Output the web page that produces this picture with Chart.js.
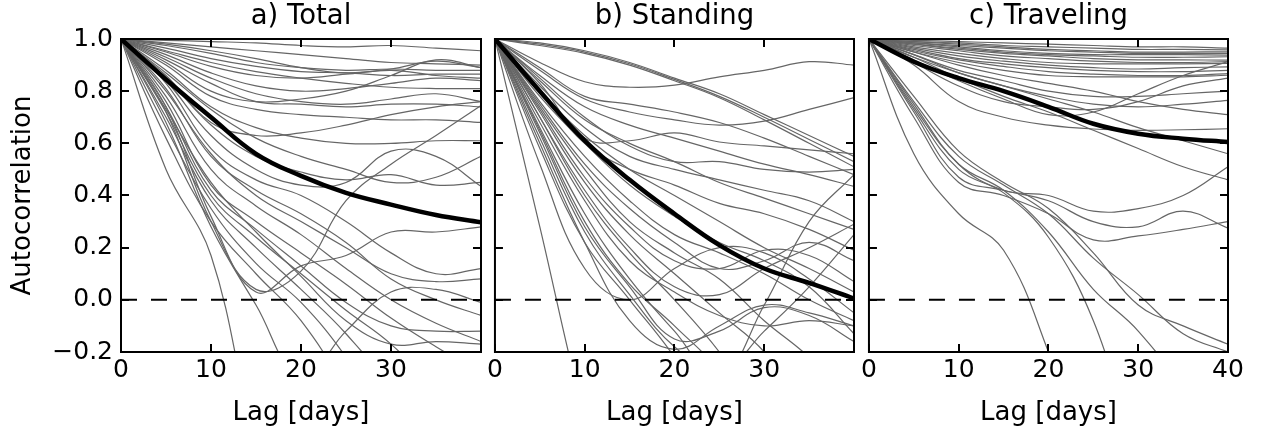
<!DOCTYPE html>
<html>
<head>
<meta charset="utf-8">
<script src="https://cdn.jsdelivr.net/npm/chart.js@4.4.0/dist/chart.umd.min.js"></script>
<style>
  body { margin: 0; background: #fff; }
  #wrap { position: relative; width: 1261px; height: 429px; overflow: hidden; }
  canvas { position: absolute; top: 0; }
</style>
</head>
<body>
<div id="wrap">
  <canvas id="total" width="490" height="429" style="left:0px"></canvas>
  <canvas id="standing" width="380" height="429" style="left:484px"></canvas>
  <canvas id="traveling" width="403" height="429" style="left:858px"></canvas>
</div>
<script>
// lag values (days) shared by every curve
const lags = [0, 5, 10, 15, 20, 25, 30, 35, 40];
const xTicks = [0, 10, 20, 30, 40];
const yTicks = [-0.2, 0, 0.2, 0.4, 0.6, 0.8, 1.0];
const zeroLags = [0, 40];
const zeroLine = [0, 0];
const panelTitles = ['a) Total', 'b) Standing', 'c) Traveling'];

// a) Total
const totalMean = [1, .845, .70, .56, .475, .41, .365, .325, .297];
const totalSeries = [
  [1, .995, .99, .985, .975, .97, .975, .965, .955],
  [1, .985, .97, .955, .94, .925, .91, .905, .90],
  [1, .98, .955, .925, .89, .87, .885, .915, .89],
  [1, .975, .945, .91, .89, .88, .885, .88, .88],
  [1, .965, .925, .895, .875, .87, .86, .865, .865],
  [1, .955, .91, .875, .85, .83, .815, .81, .81],
  [1, .95, .895, .86, .85, .865, .88, .86, .85],
  [1, .94, .87, .82, .80, .81, .83, .85, .84],
  [1, .93, .85, .79, .76, .75, .77, .79, .76],
  [1, .92, .83, .76, .75, .74, .75, .75, .74],
  [1, .91, .80, .76, .77, .80, .86, .92, .89],
  [1, .90, .78, .73, .71, .70, .69, .69, .68],
  [1, .86, .68, .63, .64, .67, .71, .74, .76],
  [1, .88, .74, .66, .62, .60, .60, .61, .61],
  [1, .85, .67, .55, .49, .46, .48, .44, .45],
  [1, .84, .63, .50, .44, .45, .57, .55, .435],
  [1, .87, .73, .62, .55, .50, .45, .47, .55],
  [1, .72, .30, .04, .11, .38, .52, .63, .745],
  [1, .74, .32, .03, .13, .17, .26, .26, .28],
  [1, .50, .17, -.55, -1, -1, -1, -1, -1],
  [1, .62, .30, .10, -.08, -.35, -.7, -1, -1],
  [1, .66, .35, .14, -.01, -.22, -.5, -1, -1],
  [1, .70, .38, .20, .04, -.13, -.35, -.7, -1],
  [1, .72, .40, .24, .10, -.04, -.17, -.35, -.6],
  [1, .76, .44, .30, .18, .06, -.07, -.18, -.28],
  [1, .78, .50, .36, .25, .12, .0, -.09, -.16],
  [1, .81, .55, .42, .33, .22, .08, .0, -.06],
  [1, .83, .58, .46, .40, .30, .18, .10, .12],
  [1, .74, .42, .27, .13, -.01, -.10, -.12, -.12],
  [1, .68, .28, -.02, -.30, -.12, .03, .04, -.01],
  [1, .73, .45, .26, .09, -.08, -.17, -.16, -.17],
  [1, .80, .56, .40, .30, .20, .10, .07, .08]
];

// b) Standing
const standingMean = [1, .80, .61, .46, .33, .21, .12, .065, .005];
const standingSeries = [
  [1, .985, .955, .91, .85, .79, .71, .63, .55],
  [1, .98, .95, .905, .845, .78, .70, .615, .53],
  [1, .975, .945, .90, .84, .775, .69, .60, .51],
  [1, .91, .836, .815, .823, .855, .88, .913, .90],
  [1, .88, .77, .72, .69, .67, .685, .73, .775],
  [1, .89, .78, .75, .72, .68, .62, .55, .48],
  [1, .86, .74, .67, .62, .57, .52, .48, .435],
  [1, .83, .62, .61, .64, .605, .59, .575, .56],
  [1, .85, .70, .59, .53, .53, .50, .49, .50],
  [1, .82, .66, .55, .50, .46, .42, .38, .30],
  [1, .84, .69, .60, .53, .45, .39, .33, .27],
  [1, .80, .60, .50, .44, .37, .33, .27, .19],
  [1, .28, -.45, -1, -1, -1, -1, -1, -1],
  [1, .52, .12, .0, .12, .20, .18, .08, -.05],
  [1, .60, .22, -.08, -.19, -.10, -.02, -.05, -.10],
  [1, .65, .30, .06, -.10, -.28, -.6, -1, -1],
  [1, .58, .22, .0, -.22, -.5, -1, -1, -1],
  [1, .70, .40, .18, .0, -.20, -.45, -.8, -1],
  [1, .72, .45, .25, .10, -.05, -.20, -.45, -.8],
  [1, .74, .50, .30, .18, .08, -.08, -.22, -.4],
  [1, .76, .55, .38, .25, .18, .10, .0, -.08],
  [1, .78, .60, .44, .32, .22, .15, .05, -.13],
  [1, .66, .33, .08, -.12, -.30, -.02, .30, .48],
  [1, .70, .42, .20, .05, .02, .12, .20, .29],
  [1, .75, .52, .35, .22, .12, .15, .22, .15],
  [1, .64, .28, .05, -.15, -.12, -.03, -.06, -.16],
  [1, .62, .26, .02, -.18, -.28, -.12, .05, .25],
  [1, .68, .38, .15, .03, -.06, -.10, -.08, -.10],
  [1, .80, .63, .50, .40, .30, .20, .12, .03],
  [1, .73, .47, .28, .15, .12, .19, .17, .07]
];

// c) Traveling
const travelingMean = [1, .913, .85, .80, .74, .675, .637, .618, .605];
const travelingSeries = [
  [1, .995, .99, .985, .98, .975, .97, .97, .965],
  [1, .99, .985, .975, .97, .965, .96, .96, .958],
  [1, .99, .98, .97, .96, .955, .95, .95, .951],
  [1, .985, .975, .965, .955, .95, .945, .945, .945],
  [1, .985, .97, .955, .945, .94, .94, .94, .938],
  [1, .98, .965, .95, .94, .935, .93, .93, .932],
  [1, .98, .96, .945, .935, .925, .92, .92, .919],
  [1, .975, .955, .935, .925, .915, .91, .91, .913],
  [1, .97, .945, .925, .91, .905, .905, .905, .906],
  [1, .965, .935, .915, .90, .89, .885, .89, .893],
  [1, .96, .925, .905, .89, .88, .875, .875, .88],
  [1, .955, .92, .895, .875, .865, .86, .86, .867],
  [1, .95, .91, .88, .86, .855, .855, .855, .861],
  [1, .95, .90, .86, .83, .80, .76, .73, .71],
  [1, .94, .88, .84, .80, .78, .78, .79, .80],
  [1, .93, .87, .82, .78, .75, .74, .75, .765],
  [1, .92, .84, .77, .71, .72, .79, .86, .913],
  [1, .91, .82, .76, .74, .73, .76, .82, .85],
  [1, .90, .76, .70, .67, .655, .65, .652, .656],
  [1, .94, .87, .82, .77, .72, .66, .61, .56],
  [1, .93, .85, .78, .72, .65, .58, .51, .46],
  [1, .56, .33, .19, -.20, -.7, -1, -1, -1],
  [1, .75, .52, .42, .40, .34, .35, .40, .51],
  [1, .72, .47, .42, .38, .30, .28, .34, .275],
  [1, .70, .45, .40, .33, .23, .245, .27, .30],
  [1, .73, .50, .41, .24, -.08, -.6, -1, -1],
  [1, .74, .52, .42, .26, .04, -.12, -.35, -.7],
  [1, .76, .55, .44, .33, .16, .02, -.13, -.20],
  [1, .78, .57, .45, .35, .18, -.02, -.10, -.17]
];

const FONT = 'DejaVu Sans';
Chart.defaults.font.family = FONT;
Chart.defaults.color = '#000';

const toPoints = (xs, ys) => xs.map((x, i) => ({ x, y: ys[i] }));

// frame, inward ticks on all four sides and the panel title over the plot area
const frameTicks = {
  id: 'frameTicks',
  afterDatasetsDraw(chart, args, opts) {
    const { ctx, chartArea: a, scales: { x, y } } = chart;
    ctx.save();
    ctx.strokeStyle = '#000';
    ctx.lineWidth = 2;
    ctx.beginPath();
    xTicks.forEach(v => {
      const px = Math.round(x.getPixelForValue(v));
      ctx.moveTo(px, a.bottom); ctx.lineTo(px, a.bottom - 8);
      ctx.moveTo(px, a.top); ctx.lineTo(px, a.top + 8);
    });
    yTicks.forEach(v => {
      const py = Math.round(y.getPixelForValue(v));
      ctx.moveTo(a.left, py); ctx.lineTo(a.left + 8, py);
      ctx.moveTo(a.right, py); ctx.lineTo(a.right - 8, py);
    });
    ctx.stroke();
    ctx.strokeRect(a.left, a.top, a.right - a.left, a.bottom - a.top);

    ctx.fillStyle = '#000';
    ctx.font = '27.5px "' + FONT + '"';
    ctx.textAlign = 'center';
    ctx.textBaseline = 'middle';
    ctx.fillText(opts.title, (a.left + a.right) / 2, 17);
    ctx.restore();
  }
};

function makePanel(id, title, series, mean, opts) {
  const datasets = [
    { data: toPoints(lags, mean), borderColor: '#000', borderWidth: 4.5, tension: 0.4 },
    { data: toPoints(zeroLags, zeroLine), borderColor: '#000', borderWidth: 2, borderDash: [16, 14] }
  ];
  series.forEach(s => datasets.push({
    data: toPoints(lags, s), borderColor: '#666', borderWidth: 1.2, tension: 0.4
  }));

  const yScale = {
    type: 'linear', min: -0.2, max: 1.0,
    display: opts.showY,
    grid: { display: false, drawTicks: false },
    border: { display: false },
    ticks: {
      stepSize: 0.2, padding: 8, color: '#000',
      font: { family: FONT, size: 25 },
      callback: v => {
        const r = Math.round(v * 10) / 10;
        return (r < 0 ? '\u2212' : '') + Math.abs(r).toFixed(1);
      }
    },
    title: {
      display: true, text: 'Autocorrelation', color: '#000',
      font: { family: FONT, size: 26 }, padding: { top: 8, bottom: 0 }
    }
  };
  if (opts.showY) yScale.afterFit = s => { s.width = 121; };

  new Chart(document.getElementById(id), {
    type: 'line',
    data: { datasets },
    options: {
      responsive: false,
      animation: false,
      events: [],
      elements: { point: { radius: 0 } },
      layout: { padding: { left: opts.padLeft, right: opts.padRight, top: 39, bottom: 0 } },
      plugins: {
        legend: { display: false },
        tooltip: { enabled: false },
        title: { display: false },
        frameTicks: { title }
      },
      scales: {
        x: {
          type: 'linear', min: 0, max: 40,
          grid: { display: false, drawTicks: false },
          border: { display: false },
          ticks: {
            stepSize: 10, maxRotation: 0, padding: 3, color: '#000',
            font: { family: FONT, size: 25 },
            callback: v => (opts.hideLast && v === 40) ? '' : String(v)
          },
          title: {
            display: true, text: 'Lag [days]', color: '#000',
            font: { family: FONT, size: 26 }, padding: { top: 0, bottom: 0 }
          },
          afterFit: s => { s.height = 77; }
        },
        y: yScale
      }
    },
    plugins: [frameTicks]
  });
}

makePanel('total', panelTitles[0], totalSeries, totalMean,
  { padLeft: 0, padRight: 9, showY: true, hideLast: true });
makePanel('standing', panelTitles[1], standingSeries, standingMean,
  { padLeft: 10, padRight: 10, showY: false, hideLast: true });
makePanel('traveling', panelTitles[2], travelingSeries, travelingMean,
  { padLeft: 10, padRight: 33, showY: false, hideLast: false });
</script>
</body>
</html>
